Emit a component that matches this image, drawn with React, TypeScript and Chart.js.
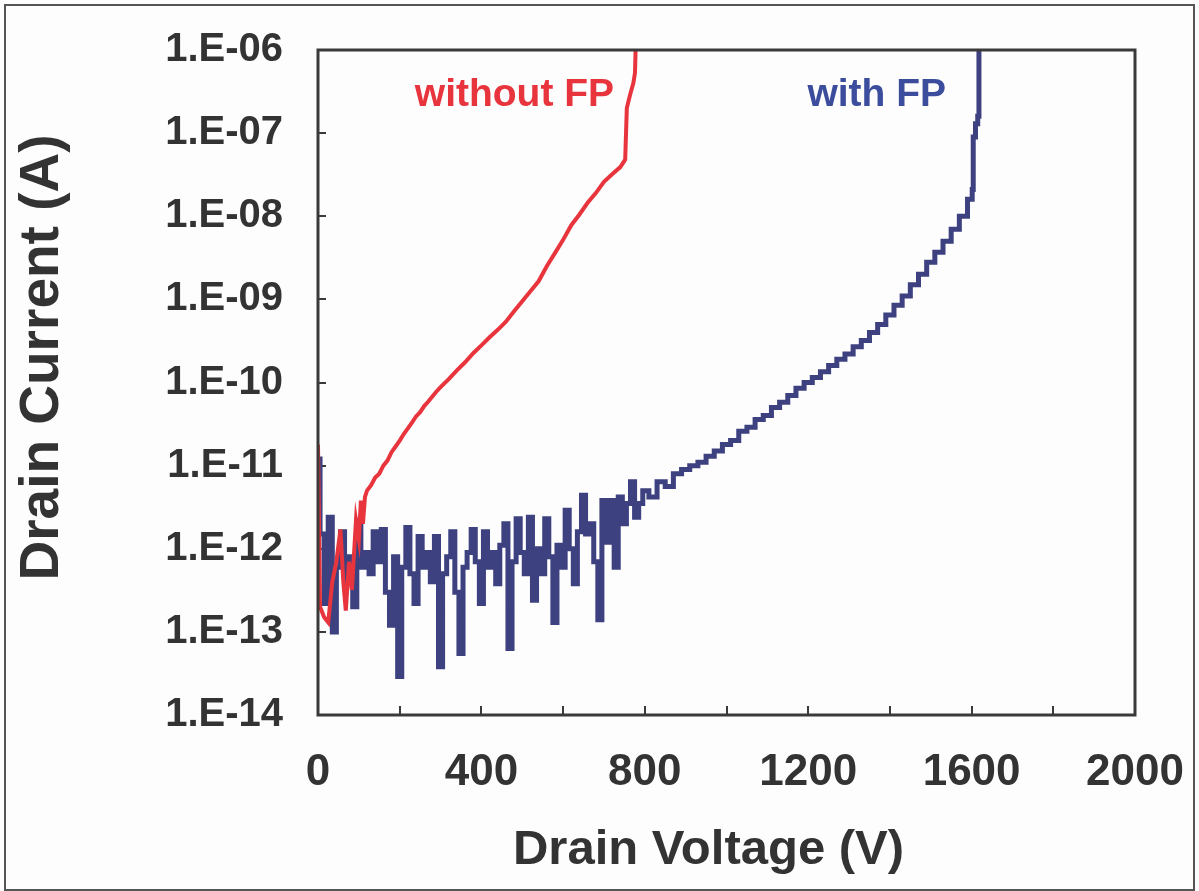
import React, { useEffect, useRef } from "react";
import { Chart, registerables } from "chart.js";

Chart.register(...registerables);

// Drain voltage (V) / drain current (A) — with field plate (blue)
const withFpVoltage = [
  0, 10, 20, 30, 40, 50, 60, 70, 80, 90,
  100, 110, 120, 130, 140, 150, 160, 170, 180, 190,
  200, 210, 220, 230, 240, 250, 260, 270, 280, 290,
  300, 310, 320, 330, 340, 350, 360, 370, 380, 390,
  400, 410, 420, 430, 440, 450, 460, 470, 480, 490,
  500, 510, 520, 530, 540, 550, 560, 570, 580, 590,
  600, 610, 620, 630, 640, 650, 660, 670, 680, 690,
  700, 710, 720, 730, 740, 750, 760, 770, 780, 790,
  800, 820, 840, 860, 880, 900, 920, 940, 960, 980,
  1000, 1020, 1040, 1060, 1080, 1100, 1120, 1140, 1160, 1180,
  1200, 1220, 1240, 1260, 1280, 1300, 1320, 1340, 1360, 1380,
  1400, 1420, 1440, 1460, 1480, 1500, 1520, 1540, 1560, 1580,
  1600, 1603, 1605, 1614, 1616, 1620,
];
const withFpCurrent = [
  1.2e-11, 1.5e-12, 2.2e-13, 2.4e-12, 1.0e-13, 6e-13, 1.6e-12, 4e-13, 8e-13, 2.0e-13,
  2.2e-12, 6e-13, 9e-13, 5e-13, 1.6e-12, 7e-13, 1.7e-12, 3e-13, 1.2e-13, 8e-13,
  2.9e-14, 6e-13, 1.8e-12, 5e-13, 2.2e-13, 1.4e-12, 6e-13, 9e-13, 4e-13, 1.4e-12,
  3.8e-14, 5e-13, 8e-13, 1.6e-12, 3e-13, 5.5e-14, 6e-13, 9e-13, 1.7e-12, 7e-13,
  2.2e-13, 1.6e-12, 6e-13, 9e-13, 3.8e-13, 1.1e-12, 2.0e-12, 6.3e-14, 7e-13, 2.3e-12,
  9e-13, 5e-13, 2.4e-12, 2.4e-13, 1.0e-12, 5e-13, 2.3e-12, 8e-13, 1.3e-13, 1.1e-12,
  6e-13, 2.9e-12, 1.0e-12, 3.8e-13, 1.6e-12, 4.4e-12, 1.5e-12, 2.0e-12, 7e-13, 1.4e-13,
  3.8e-12, 1.2e-12, 3.8e-12, 6e-13, 4.2e-12, 2.0e-12, 3.5e-12, 6.4e-12, 2.4e-12, 3.5e-12,
  5.0e-12, 4.2e-12, 6.4e-12, 5.6e-12, 8.0e-12, 9.0e-12, 1.0e-11, 1.1e-11, 1.3e-11, 1.5e-11,
  1.8e-11, 2.0e-11, 2.6e-11, 2.9e-11, 3.6e-11, 4.0e-11, 5.0e-11, 5.8e-11, 7.0e-11, 8.5e-11,
  1.0e-10, 1.15e-10, 1.35e-10, 1.6e-10, 1.9e-10, 2.2e-10, 2.7e-10, 3.2e-10, 4.0e-10, 5.0e-10,
  6.5e-10, 8.5e-10, 1.1e-9, 1.5e-9, 2.0e-9, 2.8e-9, 3.7e-9, 5.0e-9, 7.0e-9, 1.0e-8,
  1.6e-8, 2.1e-8, 9.0e-8, 1.3e-7, 1.6e-7, 2.0e-6,
];

// without field plate (red)
const withoutFpVoltage = [
  0, 5, 15, 25, 35, 45, 55, 62, 68, 76,
  83, 93, 100, 105, 110, 115, 120, 130, 140, 150,
  160, 170, 180, 190, 200, 210, 220, 230, 240, 250,
  260, 270, 280, 290, 300, 320, 340, 360, 380, 400,
  420, 440, 460, 480, 500, 520, 540, 560, 580, 600,
  620, 640, 660, 680, 700, 720, 740, 752, 756, 764,
  772, 776, 779,
];
const withoutFpCurrent = [
  1.8e-11, 2.0e-13, 1.5e-13, 1.3e-13, 4e-13, 7e-13, 1.7e-12, 4e-13, 1.8e-13, 7e-13,
  3.2e-13, 2.2e-12, 1.3e-12, 3.8e-12, 2.0e-12, 4.2e-12, 5.0e-12, 5.8e-12, 7.2e-12, 8.0e-12,
  1.0e-11, 1.15e-11, 1.45e-11, 1.7e-11, 2.0e-11, 2.4e-11, 2.8e-11, 3.3e-11, 3.9e-11, 4.4e-11,
  5.2e-11, 5.9e-11, 6.8e-11, 7.8e-11, 8.8e-11, 1.1e-10, 1.4e-10, 1.75e-10, 2.25e-10, 2.8e-10,
  3.5e-10, 4.3e-10, 5.4e-10, 7.2e-10, 9.5e-10, 1.25e-9, 1.65e-9, 2.5e-9, 3.6e-9, 5.2e-9,
  7.8e-9, 1.05e-8, 1.45e-8, 1.9e-8, 2.6e-8, 3.2e-8, 3.9e-8, 4.8e-8, 2.0e-7, 2.9e-7,
  4.0e-7, 5.3e-7, 2.0e-6,
];

const yTickValues = [1e-14, 1e-13, 1e-12, 1e-11, 1e-10, 1e-9, 1e-8, 1e-7, 1e-6];
const xTickLabels = [0, 400, 800, 1200, 1600, 2000];

const xTitle = "Drain Voltage (V)";
const yTitle = "Drain Current (A)";
const redLabel = "without FP";
const blueLabel = "with FP";

const RED = "#e8353d";
const BLUE = "#3e4180";
const TEXT = "#333333";
const FONT = "'Liberation Sans', Arial, sans-serif";

function formatExp(v: number): string {
  const e = Math.round(Math.log10(v));
  const s = String(Math.abs(e)).padStart(2, "0");
  return "1.E" + (e < 0 ? "-" : "+") + s;
}

const decorPlugin = {
  id: "decor",
  beforeDraw(chart: any) {
    const { ctx, width, height } = chart;
    ctx.save();
    ctx.fillStyle = "#fdfdfd";
    ctx.fillRect(0, 0, width, height);
    ctx.strokeStyle = "#555555";
    ctx.lineWidth = 2;
    ctx.strokeRect(5, 5, width - 10, height - 6);
    ctx.restore();
  },
  afterDraw(chart: any) {
    const { ctx, chartArea } = chart;
    const { left, top, right, bottom } = chartArea;
    ctx.save();
    ctx.strokeStyle = "#3a3a3a";
    ctx.lineWidth = 3;
    ctx.strokeRect(left, top, right - left, bottom - top);

    // axis titles
    ctx.fillStyle = TEXT;
    ctx.font = `bold 49px ${FONT}`;
    ctx.textAlign = "center";
    ctx.textBaseline = "middle";
    ctx.fillText(xTitle, (left + right) / 2 - 18, bottom + 135);

    ctx.save();
    ctx.translate(43, (top + bottom) / 2 - 25);
    ctx.rotate(-Math.PI / 2);
    ctx.font = `bold 55px ${FONT}`;
    ctx.fillText(yTitle, 0, 0);
    ctx.restore();

    // curve labels
    const xs = chart.scales.x;
    const ys = chart.scales.y;
    ctx.font = `bold 39px ${FONT}`;
    ctx.textAlign = "left";
    ctx.fillStyle = RED;
    ctx.fillText(redLabel, xs.getPixelForValue(237), ys.getPixelForValue(3e-7) + 2);
    ctx.fillStyle = "#3b4d9c";
    ctx.fillText(blueLabel, xs.getPixelForValue(1198), ys.getPixelForValue(3e-7) + 2);
    ctx.restore();
  },
};

export default function App() {
  const canvasRef = useRef<HTMLCanvasElement | null>(null);

  useEffect(() => {
    document.body.style.margin = "0";
    const canvas = canvasRef.current;
    if (!canvas) return;
    const chart = new Chart(canvas, {
      type: "line",
      data: {
        datasets: [
          {
            label: redLabel,
            data: withoutFpVoltage.map((v, i) => ({ x: v, y: withoutFpCurrent[i] })),
            borderColor: RED,
            borderWidth: 4,
            pointRadius: 0,
            tension: 0,
            fill: false,
          },
          {
            label: blueLabel,
            data: withFpVoltage.map((v, i) => ({ x: v, y: withFpCurrent[i] })),
            borderColor: BLUE,
            borderWidth: 5,
            pointRadius: 0,
            stepped: "middle",
            fill: false,
          },
        ],
      },
      plugins: [decorPlugin],
      options: {
        responsive: false,
        animation: false,
        events: [],
        layout: { padding: { top: 50, right: 64, left: 0, bottom: 0 } },
        plugins: {
          legend: { display: false },
          tooltip: { enabled: false },
          title: { display: false },
        },
        scales: {
          x: {
            type: "linear",
            min: 0,
            max: 2000,
            afterFit: (scale: any) => {
              scale.height = 176;
              scale.paddingLeft = 0;
              scale.paddingRight = 0;
            },
            afterBuildTicks: (scale: any) => {
              const t: any[] = [];
              for (let v = 0; v <= 2000; v += 200) t.push({ value: v });
              scale.ticks = t;
            },
            grid: {
              drawOnChartArea: false,
              drawTicks: true,
              tickLength: -9,
              color: "#3a3a3a",
              lineWidth: 2,
            },
            border: { display: false },
            ticks: {
              autoSkip: false,
              maxRotation: 0,
              padding: 40,
              color: TEXT,
              font: { family: FONT, size: 44, weight: "bold" },
              callback: (v: any) => (xTickLabels.includes(Number(v)) ? String(v) : ""),
            },
          },
          y: {
            type: "logarithmic",
            min: 1e-14,
            max: 1e-6,
            afterFit: (scale: any) => {
              scale.width = 318;
              scale.paddingTop = 0;
              scale.paddingBottom = 0;
            },
            afterBuildTicks: (scale: any) => {
              scale.ticks = yTickValues.map((v) => ({ value: v, major: true }));
            },
            grid: {
              drawOnChartArea: false,
              drawTicks: true,
              tickLength: -8,
              color: "#3a3a3a",
              lineWidth: 2,
            },
            border: { display: false },
            ticks: {
              autoSkip: false,
              padding: 43,
              color: TEXT,
              font: { family: FONT, size: 40, weight: "bold" },
              callback: (v: any) => formatExp(Number(v)),
            },
          },
        },
      },
    } as any);
    return () => chart.destroy();
  }, []);

  return <canvas ref={canvasRef} width={1199} height={891} style={{ display: "block" }} />;
}
